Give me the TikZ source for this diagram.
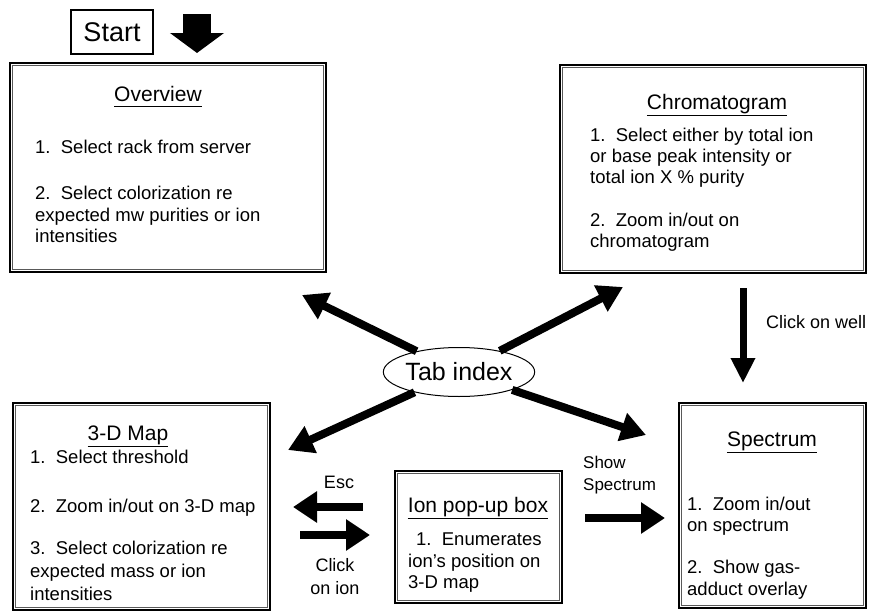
\documentclass[tikz,border=0pt]{standalone}
\usepackage{fontspec}
\setmainfont{Liberation Sans}
\usetikzlibrary{arrows.meta,shapes.geometric,calc}
\begin{document}
\begin{tikzpicture}[x=1pt,y=-1pt,
  frame/.style={draw, line width=2.4pt, inner sep=0pt},
  thinframe/.style={draw, line width=1.6pt, inner sep=0pt},
  innerline/.style={draw=black!65, line width=0.7pt},
  ttl/.style={anchor=base, font=\fontsize{21}{25}\selectfont, inner sep=0pt},
  itm/.style={anchor=base west, font=\fontsize{18.5}{22}\selectfont, inner sep=0pt},
  lbl/.style={font=\fontsize{18}{21}\selectfont, inner sep=0pt},
  fat/.style={line width=8pt, -{Triangle[width=28pt,length=25pt]}},
  flat/.style={line width=7.5pt, -{Triangle[width=30pt,length=24pt]}},
]
\useasboundingbox (0,0) rectangle (871,613);

% Start
\node[draw, line width=1.2pt, minimum width=82pt, minimum height=44pt, inner sep=0pt,
      font=\fontsize{27}{30}\selectfont] (start) at (112,32) {Start};
\coordinate (s0) at (197,14);
\coordinate (s1) at (197,53);
\draw[line width=28pt, -{Triangle[width=53pt,length=20pt]}] (s0) -- (s1);

% Overview
\node[frame, minimum width=316pt, minimum height=209pt] (ov) at (168,167.5) {};
\node[ttl] (ovt) at (158,101) {Overview};
\draw[line width=1pt] ([yshift=-5pt]ovt.base west) -- ([yshift=-5pt]ovt.base east);
\node[itm] (ov1) at (35,153) {1.\ \ Select rack from server};
\node[itm] (ov2) at (35,199) {2.\ \ Select colorization re};
\node[itm] (ov3) at (35,221) {expected mw purities or ion};
\node[itm] (ov4) at (35,242) {intensities};

% Chromatogram
\node[frame, minimum width=306pt, minimum height=208pt] (ch) at (713,169) {};
\node[ttl] (cht) at (717,109) {Chromatogram};
\draw[line width=1pt] ([yshift=-6pt]cht.base west) -- ([yshift=-6pt]cht.base east);
\node[itm] (ch1) at (590,141) {1.\ \ Select either by total ion};
\node[itm] (ch2) at (590,162) {or base peak intensity or};
\node[itm] (ch3) at (590,183) {total ion X \% purity};
\node[itm] (ch4) at (590,226) {2.\ \ Zoom in/out on};
\node[itm] (ch5) at (590,247) {chromatogram};

% 3-D Map
\node[frame, minimum width=257pt, minimum height=207pt] (md) at (141.5,506.5) {};
\node[ttl] (mdt) at (128,440) {3-D Map};
\draw[line width=1pt] ([yshift=-6pt]mdt.base west) -- ([yshift=-6pt]mdt.base east);
\node[itm] (md1) at (30,463) {1.\ \ Select threshold};
\node[itm] (md2) at (30,512) {2.\ \ Zoom in/out on 3-D map};
\node[itm] (md3) at (30,554) {3.\ \ Select colorization re};
\node[itm] (md4) at (30,577) {expected mass or ion};
\node[itm] (md5) at (30,600) {intensities};

% Ion pop-up box
\node[thinframe, minimum width=167pt, minimum height=132pt] (ip) at (478.5,537) {};
\node[ttl] (ipt) at (478,512) {Ion pop-up box};
\draw[line width=1pt] ([yshift=-6pt]ipt.base west) -- ([yshift=-6pt]ipt.base east);
\node[itm] (ip1) at (416,545) {1.\ \ Enumerates};
\node[itm] (ip2) at (408,567) {ion’s position on};
\node[itm] (ip3) at (408,588) {3-D map};

% Spectrum
\node[frame, minimum width=187pt, minimum height=205pt] (sp) at (772.5,505.5) {};
\node[ttl] (spt) at (772,446) {Spectrum};
\draw[line width=1pt] ([yshift=-6pt]spt.base west) -- ([yshift=-6pt]spt.base east);
\node[itm] (sp1) at (687,510) {1.\ \ Zoom in/out};
\node[itm] (sp2) at (687,531) {on spectrum};
\node[itm] (sp3) at (687,573) {2.\ \ Show gas-};
\node[itm] (sp4) at (687,595) {adduct overlay};

% inner lines of frames
\foreach \n in {ov,ch,md,sp}
  \draw[innerline] ([xshift=4pt,yshift=-4pt]\n.north west) rectangle ([xshift=-4pt,yshift=4pt]\n.south east);
\draw[innerline, line width=0.6pt] ([xshift=3.5pt,yshift=-3.5pt]ip.north west) rectangle ([xshift=-3.5pt,yshift=3.5pt]ip.south east);

% Tab index
\node[draw, ellipse, line width=1pt, minimum width=131pt, minimum height=49pt, inner sep=0pt,
      font=\fontsize{25}{28}\selectfont] (tab) at (459,372) {Tab index};
\coordinate (tul) at (302,295);
\coordinate (tur) at (623,287);
\coordinate (tll) at (288,450);
\coordinate (tlr) at (646,435);
\draw[fat] (tab) -- (tul);
\draw[fat] (tab) -- (tur);
\draw[fat] (tab) -- (tll);
\draw[fat] (tab) -- (tlr);

% Click on well
\coordinate (cw0) at (743,288);
\coordinate (cw1) at (743,383);
\draw[line width=7pt, -{Triangle[width=23pt,length=25pt]}] (cw0) -- (cw1);
\node[lbl, anchor=base west] (cwl) at (766,328) {Click on well};

% Esc / Click on ion
\coordinate (e0) at (363,507);
\coordinate (e1) at (293,507);
\draw[flat] (e0) -- (e1);
\node[lbl, anchor=base] (escl) at (339,488) {Esc};
\coordinate (c0) at (300,535);
\coordinate (c1) at (370,535);
\draw[flat] (c0) -- (c1);
\node[lbl, anchor=base] (cl1) at (335,571) {Click};
\node[lbl, anchor=base] (cl2) at (335,594) {on ion};

% Show Spectrum
\node[lbl, anchor=base west, font=\fontsize{17}{20}\selectfont] (ss1) at (583,468) {Show};
\node[lbl, anchor=base west, font=\fontsize{17}{20}\selectfont] (ss2) at (583,490) {Spectrum};
\coordinate (v0) at (585,518);
\coordinate (v1) at (665,518);
\draw[flat] (v0) -- (v1);
\end{tikzpicture}
\end{document}
